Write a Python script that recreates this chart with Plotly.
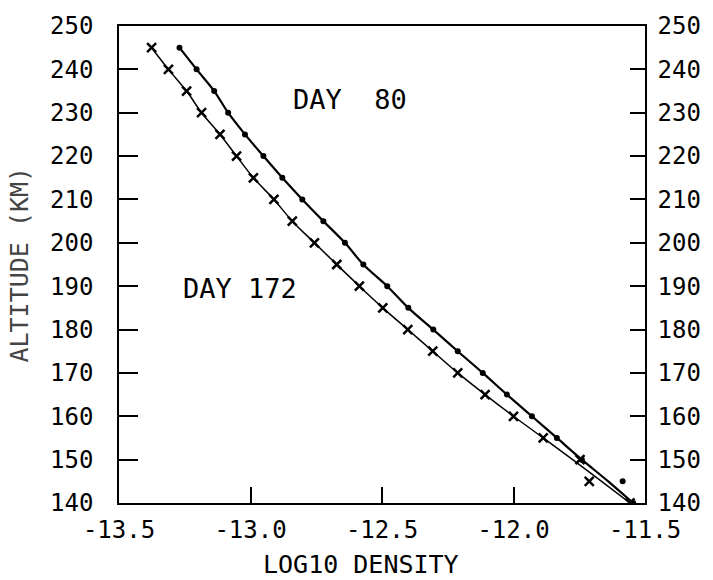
import plotly.graph_objects as go

# ---- data ----
alt = [245, 240, 235, 230, 225, 220, 215, 210, 205, 200, 195, 190, 185, 180,
       175, 170, 165, 160, 155, 150, 145, 140]
# Day 80 observed points (dots)
den80 = [-13.27, -13.205, -13.138, -13.085, -13.021, -12.951, -12.879, -12.803,
         -12.723, -12.641, -12.571, -12.48, -12.40, -12.305, -12.212, -12.117,
         -12.025, -11.93, -11.835, -11.74, -11.585, -11.545]
# Day 80 fitted curve
fit80 = [-13.27, -13.205, -13.138, -13.085, -13.021, -12.951, -12.879, -12.803,
         -12.723, -12.641, -12.571, -12.48, -12.40, -12.305, -12.212, -12.117,
         -12.025, -11.93, -11.835, -11.74, -11.64, -11.545]
# Day 172 observed points (crosses)
den172 = [-13.376, -13.312, -13.243, -13.186, -13.116, -13.053, -12.989, -12.911,
          -12.841, -12.757, -12.672, -12.586, -12.497, -12.402, -12.307, -12.212,
          -12.108, -12.0, -11.887, -11.747, -11.712, -11.557]
# Day 172 fitted curve
fit172 = [-13.376, -13.312, -13.243, -13.186, -13.116, -13.053, -12.989, -12.911,
          -12.841, -12.757, -12.672, -12.586, -12.497, -12.402, -12.307, -12.212,
          -12.108, -12.0, -11.887, -11.775, -11.665, -11.557]

xticks = [-13.5, -13.0, -12.5, -12.0, -11.5]
xticklabels = ["-13.5", "-13.0", "-12.5", "-12.0", "-11.5"]
yticks = [140, 150, 160, 170, 180, 190, 200, 210, 220, 230, 240, 250]
ylabels = [str(v) for v in yticks]

FONT = "DejaVu Sans Mono"
fsize = 24

fig = go.Figure()
fig.add_trace(go.Scatter(x=fit80, y=alt, mode="lines", line=dict(color="black", width=2.2, shape="spline"),
                         showlegend=False, hoverinfo="skip"))
fig.add_trace(go.Scatter(x=fit172, y=alt, mode="lines", line=dict(color="black", width=1.5, shape="spline"),
                         showlegend=False, hoverinfo="skip"))
fig.add_trace(go.Scatter(x=den80, y=alt, mode="markers", name="Day 80",
                         marker=dict(symbol="circle", size=6, color="black"), showlegend=False))
fig.add_trace(go.Scatter(x=den172, y=alt, mode="markers", name="Day 172",
                         marker=dict(symbol="x-thin", size=9, color="black",
                                     line=dict(color="black", width=2.5)), showlegend=False))
# invisible trace for the right axis
fig.add_trace(go.Scatter(x=[None], y=[None], yaxis="y2", showlegend=False))

fig.add_annotation(x=-12.62, y=233, text="DAY\u00a0 80", showarrow=False,
                   font=dict(family=FONT, size=27, color="black"))
fig.add_annotation(x=-13.04, y=189.5, text="DAY 172", showarrow=False,
                   font=dict(family=FONT, size=27, color="black"))
# axis titles
fig.add_annotation(xref="paper", yref="paper", x=0.46, y=-0.128, yanchor="middle",
                   text="LOG10 DENSITY", showarrow=False,
                   font=dict(family=FONT, size=25, color="black"))
fig.add_annotation(xref="paper", yref="paper", x=-0.19, y=0.5, xanchor="center",
                   text="ALTITUDE (KM)", showarrow=False, textangle=-90,
                   font=dict(family=FONT, size=25, color="#444"))

axis_font = dict(family=FONT, size=fsize, color="black")
fig.update_layout(
    width=713, height=580,
    margin=dict(l=119, r=68, t=21, b=77),
    paper_bgcolor="white", plot_bgcolor="white",
    xaxis=dict(range=[-13.5, -11.5], tickvals=xticks, ticktext=xticklabels,
               ticks="inside", ticklen=16, tickwidth=1.5, tickcolor="black",
               showline=True, linecolor="black", linewidth=1.5, mirror=True,
               showgrid=False, zeroline=False, tickfont=axis_font,
               ticklabelstandoff=4),
    yaxis=dict(range=[140, 250], tickvals=yticks, ticktext=ylabels,
               ticks="inside", ticklen=19, tickwidth=1.5, tickcolor="black",
               showline=True, linecolor="black", linewidth=1.5,
               showgrid=False, zeroline=False, tickfont=axis_font,
               ticklabelstandoff=19),
    yaxis2=dict(range=[140, 250], tickvals=yticks, ticktext=ylabels, overlaying="y", side="right",
                ticks="inside", ticklen=15, tickwidth=1.5, tickcolor="black",
                showline=True, linecolor="black", linewidth=1.5,
                showgrid=False, zeroline=False, tickfont=axis_font, ticklabelstandoff=6),
)

fig.write_html("out.html")
